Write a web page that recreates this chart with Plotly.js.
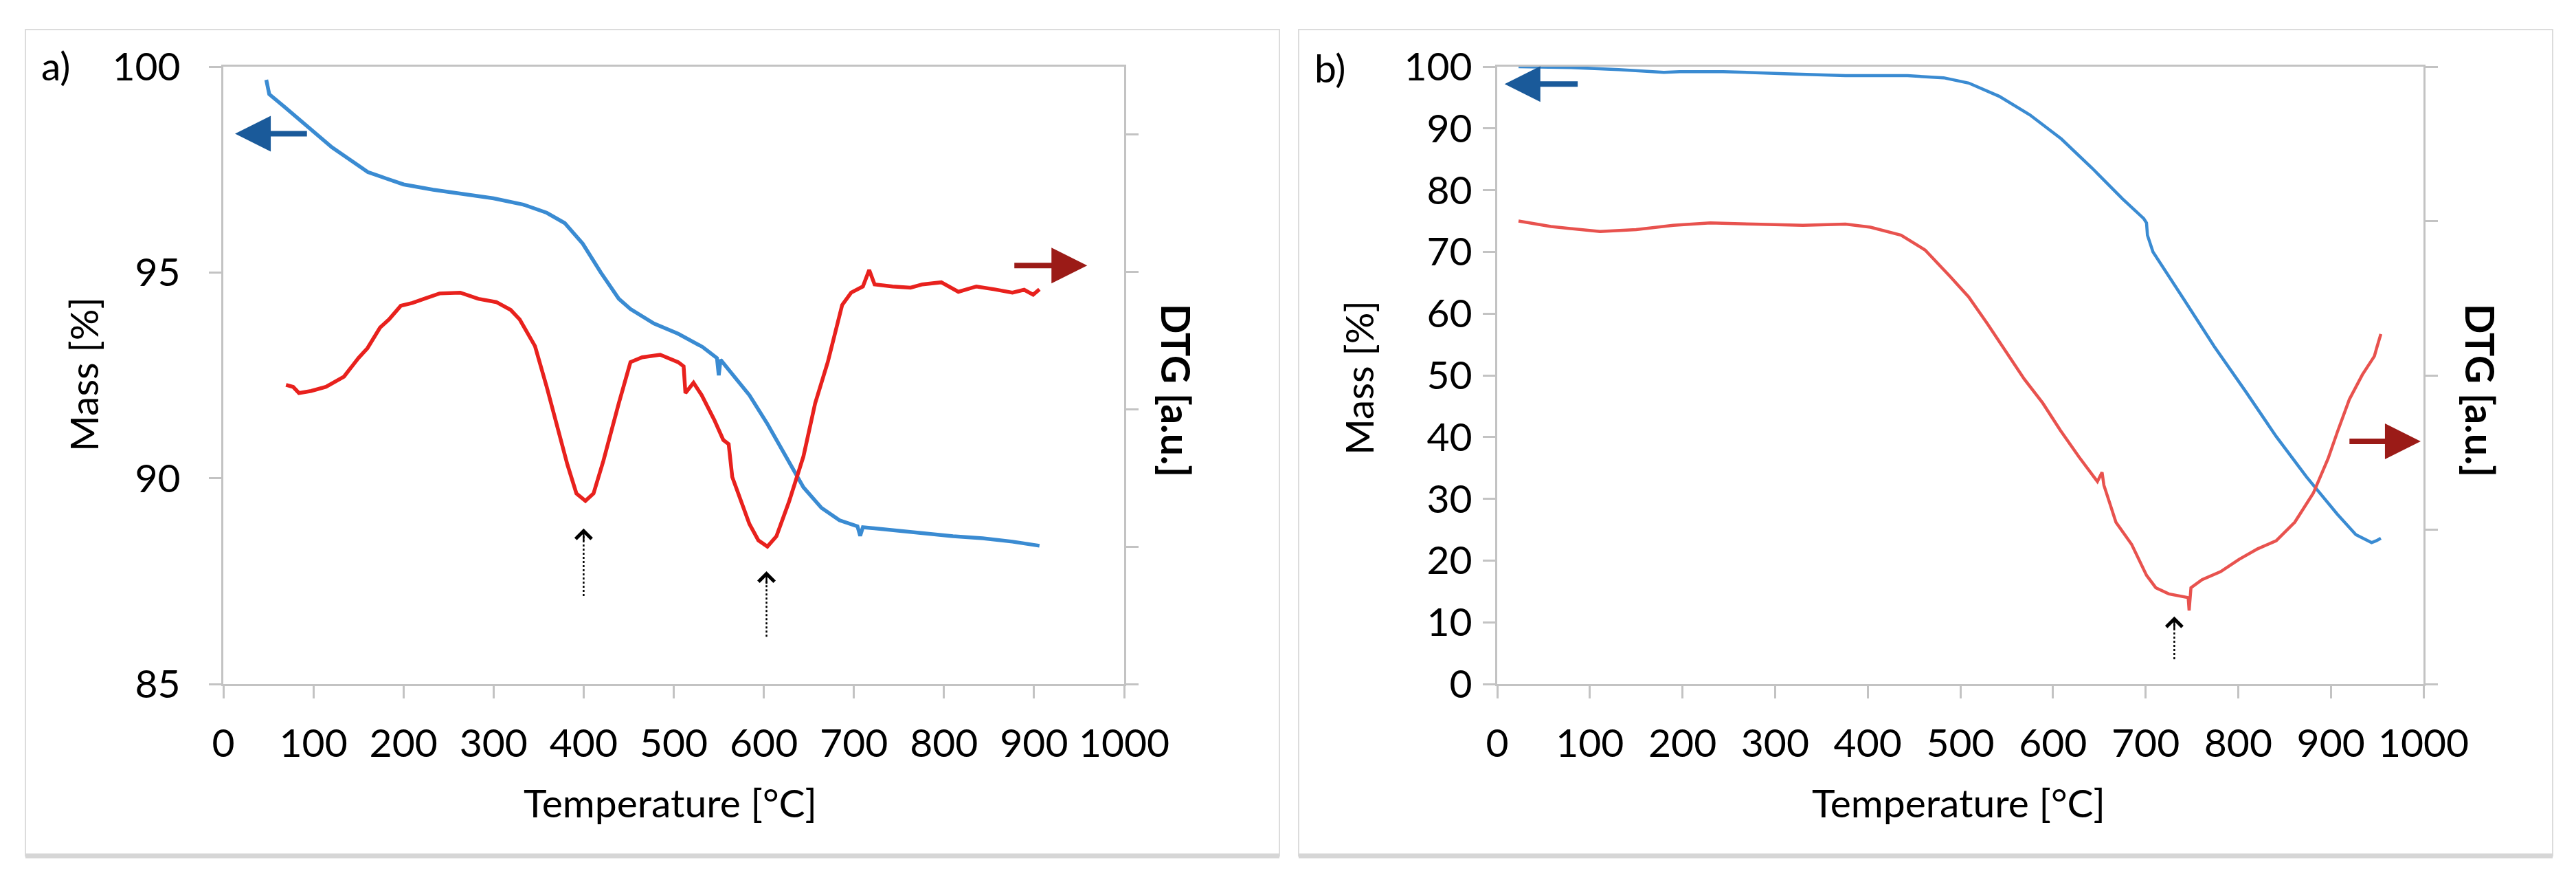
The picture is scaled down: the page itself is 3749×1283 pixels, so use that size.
<!DOCTYPE html>
<html>
<head>
<meta charset="utf-8">
<script src="https://cdn.plot.ly/plotly-3.0.1.min.js"></script>
<style>html,body{margin:0;padding:0;background:#fff;}#chart{width:3749px;height:1283px;}</style>
</head>
<body>
<div id="chart"></div>
<script>
// ---------- Panel a data ----------
var tempA_mass = [47.7, 51, 67.6, 94, 120.6, 140.5, 160.4, 180, 200, 233, 266, 300, 333, 359, 379, 399, 419, 439, 452, 478, 505, 532, 548, 550, 552, 565, 584, 604, 624, 644, 664, 684, 704, 707, 710, 743, 777, 810, 843, 876, 906];
var massA = [99.68, 99.33, 99.03, 98.54, 98.04, 97.74, 97.44, 97.29, 97.14, 97.01, 96.9, 96.8, 96.65, 96.45, 96.2, 95.7, 95.0, 94.36, 94.11, 93.76, 93.51, 93.19, 92.92, 92.5, 92.88, 92.52, 92.02, 91.32, 90.53, 89.78, 89.28, 88.98, 88.83, 88.6, 88.81, 88.73, 88.65, 88.59, 88.54, 88.46, 88.36];
var tempA_dtg = [69.6, 77.5, 84, 97.4, 114, 134, 150, 160, 174, 184, 197, 210, 223, 240, 263, 283, 303, 319, 329, 346, 359, 372, 382, 392, 402, 411, 422, 439, 452, 465, 485, 505, 511, 513, 522, 531, 545, 555, 561, 565, 575, 584, 594, 604, 614, 628, 644, 657, 671, 677, 687, 697, 710, 717, 723, 743, 763, 776, 797, 816, 836, 856, 876, 889, 899, 906];
var dtgA = [92.27, 92.22, 92.07, 92.12, 92.22, 92.47, 92.92, 93.16, 93.66, 93.86, 94.19, 94.26, 94.36, 94.49, 94.51, 94.36, 94.28, 94.09, 93.86, 93.21, 92.22, 91.12, 90.33, 89.63, 89.45, 89.63, 90.43, 91.82, 92.82, 92.94, 93.0, 92.82, 92.72, 92.07, 92.32, 92.02, 91.42, 90.93, 90.83, 90.03, 89.43, 88.89, 88.49, 88.34, 88.59, 89.43, 90.53, 91.82, 92.82, 93.31, 94.21, 94.51, 94.66, 95.06, 94.71, 94.66, 94.63, 94.71, 94.76, 94.53, 94.66, 94.59, 94.51, 94.58, 94.46, 94.59];

// ---------- Panel b data ----------
var tempB_mass = [23, 78, 131, 180, 197, 244, 310, 376, 443, 482, 509, 542, 575, 609, 642, 675, 698, 701, 702, 708, 741, 774, 808, 841, 874, 907, 927, 944, 949, 954];
var massB = [100, 99.87, 99.54, 99.07, 99.2, 99.2, 98.87, 98.54, 98.54, 98.2, 97.35, 95.2, 92.2, 88.3, 83.6, 78.6, 75.4, 74.7, 72.7, 70.0, 62.4, 54.7, 47.4, 40.1, 33.5, 27.5, 24.2, 22.9, 23.2, 23.6];
var tempB_dtg = [23, 58, 111, 150, 190, 230, 277, 330, 376, 403, 436, 462, 489, 509, 529, 549, 569, 589, 608, 628, 648, 653, 655, 668, 685, 701, 711, 725, 741, 746, 747, 749, 761, 781, 801, 821, 841, 861, 881, 897, 907, 920, 934, 947, 950, 954];
var dtgB = [75.0, 74.1, 73.3, 73.6, 74.3, 74.7, 74.5, 74.3, 74.5, 74.0, 72.7, 70.3, 66.0, 62.7, 58.4, 53.8, 49.4, 45.5, 41.1, 36.8, 32.8, 34.3, 32.2, 26.2, 22.6, 17.6, 15.6, 14.6, 14.1, 14.0, 11.9, 15.6, 16.9, 18.2, 20.2, 21.9, 23.2, 26.2, 30.9, 36.5, 40.8, 46.1, 50.1, 53.1, 54.7, 56.7];

// ---------- Text ----------
var panelLabels = ["a)", "b)"];
var xTitle = "Temperature [°C]";
var yTitle = "Mass [%]";
var y2Title = "DTG [a.u.]";

// ---------- Styling ----------
var W = 3749, H = 1283;
function px(x) { return x / W; }
function py(y) { return 1 - y / H; }
var FONT = "Lato, 'Open Sans', sans-serif";
var AX = "#c3c3c3";
var blue = "#3a8bd2", red = "#e8211d", redB = "#e8524e";

var traces = [
  {x: tempA_mass, y: massA, xaxis: "x", yaxis: "y", mode: "lines", line: {color: blue, width: 5.5}},
  {x: tempA_dtg, y: dtgA, xaxis: "x", yaxis: "y2", mode: "lines", line: {color: red, width: 5.5}},
  {x: tempB_mass, y: massB, xaxis: "x2", yaxis: "y3", mode: "lines", line: {color: blue, width: 4.5}},
  {x: tempB_dtg, y: dtgB, xaxis: "x2", yaxis: "y4", mode: "lines", line: {color: redB, width: 4.5}}
];

function baseAxis(extra) {
  var a = {
    showgrid: false, zeroline: false, showline: true, linecolor: AX, linewidth: 3,
    ticks: "outside", ticklen: 18, tickwidth: 3, tickcolor: AX,
    tickfont: {family: FONT, size: 57, color: "#000"}
  };
  for (var k in extra) a[k] = extra[k];
  return a;
}

var yDom = [py(995), py(97)];
var layout = {
  width: W, height: H,
  margin: {l: 0, r: 0, t: 0, b: 0},
  paper_bgcolor: "#fff", plot_bgcolor: "rgba(0,0,0,0)",
  showlegend: false,
  xaxis: baseAxis({domain: [px(325), px(1636)], range: [0, 1000], dtick: 100, anchor: "y", mirror: true, ticklabelstandoff: 17}),
  yaxis: baseAxis({domain: yDom, range: [85, 100], dtick: 5, anchor: "x", ticklabelstandoff: 30}),
  yaxis2: baseAxis({overlaying: "y", side: "right", anchor: "x", range: [85, 100], tick0: 85, dtick: 3.34, showticklabels: false}),
  xaxis2: baseAxis({domain: [px(2179), px(3527)], range: [0, 1000], dtick: 100, anchor: "y3", mirror: true, ticklabelstandoff: 17}),
  yaxis3: baseAxis({domain: yDom, range: [0, 100], dtick: 10, anchor: "x2", ticklabelstandoff: 4}),
  yaxis4: baseAxis({overlaying: "y3", side: "right", anchor: "x2", range: [0, 100], dtick: 25, showticklabels: false}),
  shapes: [
    {type: "rect", xref: "paper", yref: "paper", x0: px(37), x1: px(1862), y0: py(1245), y1: py(43), line: {color: "#dcdcdc", width: 2}},
    {type: "line", xref: "paper", yref: "paper", x0: px(37), x1: px(1862), y0: py(1245), y1: py(1245), line: {color: "#d6d6d6", width: 7}},
    {type: "rect", xref: "paper", yref: "paper", x0: px(1890), x1: px(3715), y0: py(1245), y1: py(43), line: {color: "#dcdcdc", width: 2}},
    {type: "line", xref: "paper", yref: "paper", x0: px(1890), x1: px(3715), y0: py(1245), y1: py(1245), line: {color: "#d6d6d6", width: 7}},
    {type: "line", xref: "x", yref: "y", x0: 400, x1: 400, y0: 87.14, y1: 88.6, line: {color: "#000", width: 2.5, dash: "dot"}},
    {type: "line", xref: "x", yref: "y", x0: 603, x1: 603, y0: 86.15, y1: 87.55, line: {color: "#000", width: 2.5, dash: "dot"}},
    {type: "line", xref: "x2", yref: "y3", x0: 731, x1: 731, y0: 4.0, y1: 9.8, line: {color: "#000", width: 2.5, dash: "dot"}}
  ],
  annotations: []
};

function txt(t, x, y, opts) {
  var a = {text: t, xref: "paper", yref: "paper", x: px(x), y: py(y), xanchor: "center", yanchor: "middle",
    showarrow: false, font: {family: FONT, size: 57, color: "#000"}};
  for (var k in opts) a[k] = opts[k];
  layout.annotations.push(a);
}
txt(panelLabels[0], 81, 95);
txt(panelLabels[1], 1936, 98);
txt(yTitle, 121, 545, {textangle: -90});
txt(yTitle, 1977, 549, {textangle: -90});
txt("<b>" + y2Title + "</b>", 1712, 568, {textangle: 90});
txt("<b>" + y2Title + "</b>", 3610, 568, {textangle: 90});
txt(xTitle, 975, 1167);
txt(xTitle, 2850, 1167);

function arrow(xr, yr, x, y, ax, ay, color, w, head, size) {
  layout.annotations.push({text: "", xref: xr, yref: yr, axref: xr, ayref: yr, x: x, y: y, ax: ax, ay: ay,
    showarrow: true, arrowhead: head, arrowsize: size, arrowwidth: w, arrowcolor: color, standoff: 0});
}
arrow("x", "y", 13, 98.37, 94, 98.37, "#1a5a9a", 8, 2, 1.3);
arrow("x", "y", 959, 95.17, 877, 95.17, "#9b1b17", 8, 2, 1.3);
arrow("x2", "y3", 8, 97.2, 88, 97.2, "#1a5a9a", 8, 2, 1.3);
arrow("x2", "y3", 997, 39.3, 919, 39.3, "#9b1b17", 8, 2, 1.3);
arrow("x", "y", 400, 88.78, 400, 88.45, "#000", 2.5, 4, 1.8);
arrow("x", "y", 603, 87.74, 603, 87.41, "#000", 2.5, 4, 1.8);
arrow("x2", "y3", 731, 10.95, 731, 8.8, "#000", 2.5, 4, 1.8);

Plotly.newPlot("chart", traces, layout, {staticPlot: true, displayModeBar: false});
</script>
</body>
</html>
